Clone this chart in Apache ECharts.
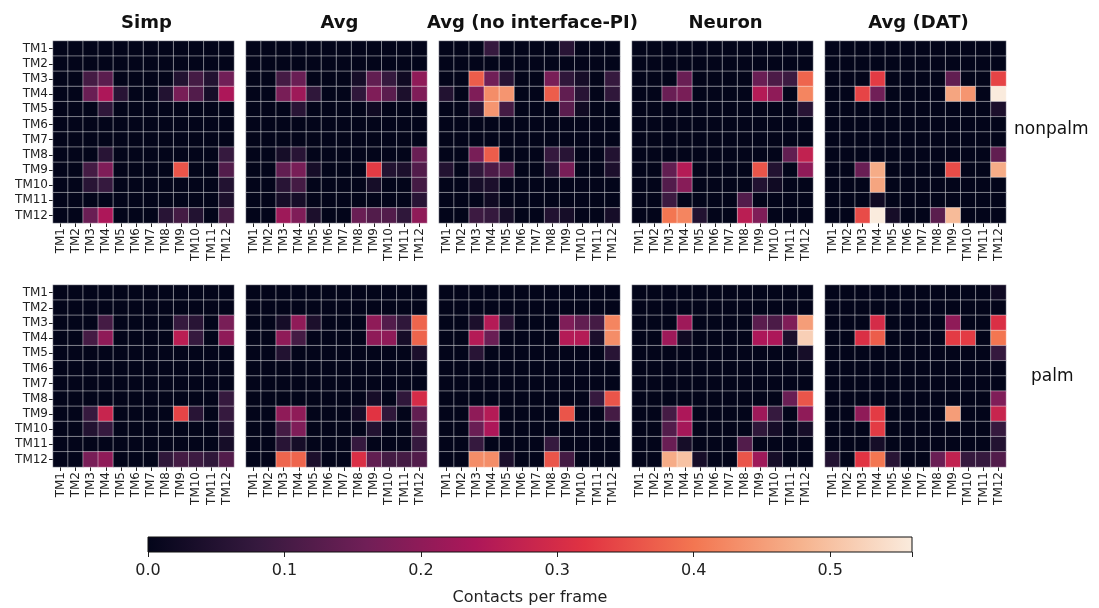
<!DOCTYPE html>
<html>
<head>
<meta charset="utf-8">
<script src="https://cdn.jsdelivr.net/npm/echarts@6/dist/echarts.min.js"></script>
<style>html,body{margin:0;padding:0;background:#fff;}#chart{width:1099px;height:608px;}</style>
</head>
<body>
<div id="chart"></div>
<script>
const tmLabels = ['TM1','TM2','TM3','TM4','TM5','TM6','TM7','TM8','TM9','TM10','TM11','TM12'];
const methods = ['Simp', 'Avg', 'Avg (no interface-PI)', 'Neuron', 'Avg (DAT)'];
const conditions = ['nonpalm', 'palm'];
const cbarTicks = [0.0, 0.1, 0.2, 0.3, 0.4, 0.5];
const vmax = 0.56;
const rocket = ['#03051a','#35193e','#701f57','#ad1759','#e13342','#f37651','#f6b48f','#faebdd'];

// rows TM1..TM12 (top to bottom), columns TM1..TM12
const simpNonpalm = [
 [0,0,0,0,0,0,0,0,0,0,0,0],
 [0,0,0,0,0,0,0,0,0,0,0,0],
 [0,0,0.10,0.13,0,0,0,0,0.05,0.10,0.05,0.16],
 [0,0,0.15,0.24,0.06,0,0,0.05,0.17,0.12,0.03,0.24],
 [0,0,0,0.07,0,0,0,0,0,0,0,0],
 [0,0,0,0,0,0,0,0,0,0,0,0],
 [0,0,0,0,0,0,0,0,0,0,0,0],
 [0,0,0,0.06,0,0,0,0,0,0,0,0.08],
 [0,0,0.10,0.18,0,0,0,0,0.36,0,0,0.12],
 [0,0,0.06,0.08,0,0,0,0,0,0,0,0.05],
 [0,0,0,0,0,0,0,0,0,0,0,0.04],
 [0,0,0.15,0.24,0,0,0,0.06,0.10,0.05,0,0.10]
];
const avgNonpalm = [
 [0,0,0,0,0,0,0,0,0,0,0,0],
 [0,0,0,0,0,0,0,0,0,0,0,0],
 [0,0,0.10,0.15,0,0,0,0.03,0.14,0.08,0.02,0.20],
 [0,0,0.17,0.22,0.07,0,0,0.07,0.18,0.13,0.04,0.18],
 [0,0,0,0.06,0,0,0,0,0.02,0,0,0],
 [0,0,0,0,0,0,0,0,0,0,0,0],
 [0,0,0,0,0,0,0,0,0,0,0,0],
 [0,0,0.03,0.06,0,0,0,0,0,0,0,0.15],
 [0,0,0.14,0.17,0.03,0,0,0,0.33,0.05,0.04,0.12],
 [0,0,0.06,0.10,0,0,0,0,0.03,0,0,0.10],
 [0,0,0.03,0.03,0,0,0,0,0,0,0,0.06],
 [0,0,0.22,0.18,0.04,0,0,0.15,0.12,0.12,0.07,0.20]
];
const noPiNonpalm = [
 [0,0,0,0.08,0,0,0,0,0.06,0,0,0],
 [0,0,0,0,0,0,0,0,0,0,0,0],
 [0,0,0.37,0.16,0.06,0,0,0.17,0.07,0.03,0,0.08],
 [0.05,0,0.18,0.43,0.44,0,0,0.37,0.14,0.06,0,0.07],
 [0,0,0.06,0.44,0.10,0,0,0,0.13,0.02,0,0],
 [0,0,0,0,0,0,0,0,0,0,0,0],
 [0,0,0,0,0,0,0,0,0,0,0,0],
 [0,0,0.17,0.37,0,0,0,0.08,0.06,0,0,0.05],
 [0.05,0,0.07,0.11,0.12,0,0,0.05,0.17,0,0,0.04],
 [0,0,0.03,0.04,0,0,0,0,0,0,0,0],
 [0,0,0,0.02,0,0,0,0,0,0,0,0],
 [0,0,0.09,0.08,0.03,0,0,0.05,0.03,0,0,0.03]
];
const neuronNonpalm = [
 [0,0,0,0,0,0,0,0,0,0,0,0],
 [0,0,0,0,0,0,0,0,0,0,0,0],
 [0,0,0,0.15,0,0,0,0,0.15,0.11,0.09,0.38],
 [0,0,0.15,0.17,0,0,0,0,0.25,0.20,0,0.42],
 [0,0,0,0,0,0,0,0,0,0,0,0.06],
 [0,0,0,0,0,0,0,0,0,0,0,0],
 [0,0,0,0,0,0,0,0,0,0,0,0],
 [0,0,0,0,0,0,0,0,0,0,0.14,0.27],
 [0,0,0.14,0.25,0,0,0,0,0.36,0.05,0,0.20],
 [0,0,0.12,0.19,0,0,0,0,0.05,0.02,0,0],
 [0,0,0.09,0,0,0,0,0.12,0,0,0,0],
 [0,0,0.40,0.42,0.05,0,0,0.26,0.18,0,0,0]
];
const datNonpalm = [
 [0,0,0,0,0,0,0,0,0,0,0,0],
 [0,0,0,0,0,0,0,0,0,0,0,0],
 [0,0,0,0.33,0,0,0,0,0.14,0,0,0.34],
 [0,0,0.34,0.16,0,0,0,0,0.46,0.44,0,0.56],
 [0,0,0,0,0,0,0,0,0,0,0,0.04],
 [0,0,0,0,0,0,0,0,0,0,0,0],
 [0,0,0,0,0,0,0,0,0,0,0,0],
 [0,0,0,0,0,0,0,0,0,0,0,0.14],
 [0,0,0.15,0.47,0,0,0,0,0.35,0,0,0.47],
 [0,0,0,0.46,0,0,0,0,0,0,0,0],
 [0,0,0,0.02,0,0,0,0,0,0,0,0],
 [0,0,0.35,0.56,0.03,0,0,0.13,0.49,0,0,0]
];
const simpPalm = [
 [0,0,0,0,0,0,0,0,0,0,0,0],
 [0,0,0,0,0,0,0,0,0,0,0,0],
 [0,0,0,0.10,0,0,0,0,0.08,0.06,0,0.17],
 [0,0,0.10,0.20,0,0,0,0,0.26,0.08,0,0.20],
 [0,0,0,0,0,0,0,0,0,0,0,0],
 [0,0,0,0,0,0,0,0,0,0,0,0],
 [0,0,0,0,0,0,0,0,0,0,0,0],
 [0,0,0,0,0,0,0,0,0,0,0,0.08],
 [0,0,0.08,0.28,0,0,0,0,0.34,0.06,0,0.08],
 [0,0,0.05,0.08,0,0,0,0,0,0,0,0.05],
 [0,0,0,0,0,0,0,0,0,0,0,0.03],
 [0,0,0.17,0.20,0,0,0,0.07,0.10,0.09,0.07,0.12]
];
const avgPalm = [
 [0,0,0,0,0,0,0,0,0,0,0,0],
 [0,0,0,0,0,0,0,0,0,0,0,0],
 [0,0,0.03,0.20,0.04,0,0,0,0.20,0.12,0.07,0.38],
 [0,0,0.20,0.10,0,0,0,0,0.20,0.20,0.03,0.38],
 [0,0,0.05,0,0,0,0,0,0,0,0,0.04],
 [0,0,0,0,0,0,0,0,0,0,0,0],
 [0,0,0,0,0,0,0,0,0,0,0,0],
 [0,0,0,0,0,0,0,0,0.03,0,0.07,0.30],
 [0,0,0.20,0.20,0,0,0,0.03,0.32,0.07,0,0.14],
 [0,0,0.10,0.18,0,0,0,0,0.05,0,0,0.10],
 [0,0,0.06,0.03,0,0,0,0.08,0,0,0,0.08],
 [0,0,0.38,0.38,0.04,0,0,0.31,0.14,0.10,0.10,0.12]
];
const noPiPalm = [
 [0,0,0,0,0,0,0,0,0,0,0,0],
 [0,0,0,0,0,0,0,0,0,0,0,0],
 [0,0,0.04,0.25,0.06,0,0,0,0.18,0.14,0.10,0.42],
 [0,0,0.25,0.15,0,0,0,0,0.25,0.25,0.04,0.43],
 [0,0,0.06,0,0,0,0,0,0,0,0,0.06],
 [0,0,0,0,0,0,0,0,0,0,0,0],
 [0,0,0,0,0,0,0,0,0,0,0,0],
 [0,0,0,0,0,0,0,0,0,0,0.08,0.36],
 [0,0,0.20,0.25,0,0,0,0,0.36,0,0,0.10],
 [0,0,0.15,0.24,0,0,0,0,0,0,0,0],
 [0,0,0.08,0,0,0,0,0.08,0,0,0,0],
 [0,0,0.43,0.43,0.04,0,0,0.36,0.10,0,0,0]
];
const neuronPalm = [
 [0,0,0,0,0,0,0,0,0,0,0,0],
 [0,0,0,0,0,0,0,0,0,0,0,0],
 [0,0,0,0.22,0,0,0,0,0.13,0.11,0.18,0.45],
 [0,0,0.22,0.02,0,0,0,0,0.24,0.24,0.04,0.52],
 [0,0,0,0,0,0,0,0,0,0,0,0.03],
 [0,0,0,0,0,0,0,0,0,0,0,0],
 [0,0,0,0,0,0,0,0,0,0,0,0],
 [0,0,0,0,0,0,0,0,0,0,0.15,0.36],
 [0,0,0.10,0.24,0,0,0,0,0.22,0.08,0,0.20],
 [0,0,0.12,0.23,0,0,0,0,0.07,0.03,0,0.03],
 [0,0,0.15,0.03,0,0,0,0.12,0,0,0,0],
 [0,0,0.47,0.50,0.03,0,0,0.36,0.22,0.03,0,0]
];
const datPalm = [
 [0,0,0,0,0,0,0,0,0,0,0,0.02],
 [0,0,0,0,0,0,0,0,0,0,0,0],
 [0,0,0,0.30,0,0,0,0,0.20,0,0,0.31],
 [0,0,0.31,0.37,0,0,0,0,0.33,0.33,0,0.40],
 [0,0,0,0,0,0,0,0,0,0,0,0.08],
 [0,0,0,0,0,0,0,0,0,0,0,0],
 [0,0,0,0,0,0,0,0,0,0,0,0],
 [0,0,0,0,0,0,0,0,0,0,0,0.18],
 [0,0,0.20,0.33,0,0,0,0,0.45,0,0,0.28],
 [0,0,0,0.33,0,0,0,0,0,0,0,0.08],
 [0,0,0,0.03,0,0,0,0,0,0,0,0.05],
 [0.05,0,0.32,0.40,0.06,0,0,0.15,0.27,0.08,0.08,0.12]
];

const panels = [
  [simpNonpalm, avgNonpalm, noPiNonpalm, neuronNonpalm, datNonpalm],
  [simpPalm, avgPalm, noPiPalm, neuronPalm, datPalm]
];

const FONT = 'DejaVu Sans';
const panelLeft0 = 53, panelStep = 193, panelW = 181, panelH = 182;
const rowTops = [41, 285];

const grids = [], xAxes = [], yAxes = [], series = [], titles = [];
let gi = 0;
for (let r = 0; r < 2; r++) {
  for (let c = 0; c < 5; c++) {
    const left = panelLeft0 + c * panelStep;
    grids.push({left: left, top: rowTops[r], width: panelW, height: panelH, containLabel: false});
    xAxes.push({
      type: 'category', gridIndex: gi, data: tmLabels, position: 'bottom',
      axisLine: {show: false},
      axisTick: {show: true, alignWithLabel: true, length: 4, lineStyle: {color: '#222'}},
      axisLabel: {rotate: 90, interval: 0, fontSize: 12, color: '#222', fontFamily: FONT, margin: 5},
      splitLine: {show: false}
    });
    yAxes.push({
      type: 'category', gridIndex: gi, data: tmLabels, inverse: true,
      axisLine: {show: false},
      axisTick: {show: c === 0, alignWithLabel: true, length: 4, lineStyle: {color: '#222'}},
      axisLabel: {show: c === 0, interval: 0, fontSize: 12, color: '#222', fontFamily: FONT, margin: 5},
      splitLine: {show: false}
    });
    const m = panels[r][c];
    const data = [];
    for (let i = 0; i < 12; i++) for (let j = 0; j < 12; j++) data.push([j, i, m[i][j]]);
    series.push({
      type: 'heatmap', xAxisIndex: gi, yAxisIndex: gi, data: data,
      itemStyle: {borderColor: 'rgba(255,255,255,0.72)', borderWidth: 0.6},
      emphasis: {disabled: true}, silent: true, progressive: 0
    });
    gi++;
  }
}
for (let c = 0; c < 5; c++) {
  titles.push({
    text: methods[c], left: panelLeft0 + c * panelStep + panelW / 2 - 2, top: 9, textAlign: 'center',
    textStyle: {fontFamily: FONT, fontWeight: 'bold', fontSize: 18, color: '#111'}
  });
}

// colorbar grid
const cbGrid = grids.length;
grids.push({left: 148, top: 537, width: 764, height: 15});
xAxes.push({
  type: 'value', gridIndex: cbGrid, min: 0, max: vmax, interval: 0.1,
  axisLine: {show: false},
  axisTick: {show: true, length: 5, lineStyle: {color: '#222'}},
  axisLabel: {fontSize: 16, color: '#222', fontFamily: FONT, margin: 11,
    formatter: v => (cbarTicks.some(t => Math.abs(t - v) < 1e-6) ? v.toFixed(1) : '')},
  splitLine: {show: false},
  name: 'Contacts per frame', nameLocation: 'middle', nameGap: 38,
  nameTextStyle: {fontSize: 16, color: '#222', fontFamily: FONT}
});
yAxes.push({type: 'value', gridIndex: cbGrid, min: 0, max: 1, show: false});
series.push({
  type: 'custom', xAxisIndex: cbGrid, yAxisIndex: cbGrid, silent: true,
  data: [[0, vmax]],
  renderItem: function (params, api) {
    const p0 = api.coord([api.value(0), 0]);
    const p1 = api.coord([api.value(1), 1]);
    const stops = rocket.map((col, k) => ({offset: k / (rocket.length - 1), color: col}));
    return {
      type: 'rect',
      shape: {x: p0[0], y: p1[1], width: p1[0] - p0[0], height: p0[1] - p1[1]},
      style: {fill: new echarts.graphic.LinearGradient(0, 0, 1, 0, stops), stroke: '#111', lineWidth: 1}
    };
  }
});

const chart = echarts.init(document.getElementById('chart'), null, {renderer: 'canvas'});
chart.setOption({
  backgroundColor: '#fff',
  animation: false,
  title: titles,
  grid: grids,
  xAxis: xAxes,
  yAxis: yAxes,
  visualMap: {
    type: 'continuous', show: false, min: 0, max: vmax,
    seriesIndex: [0,1,2,3,4,5,6,7,8,9],
    inRange: {color: rocket}
  },
  graphic: [
    {type: 'text', left: 1014, top: 121, style: {text: conditions[0], font: '17px "DejaVu Sans"', fill: '#111'}},
    {type: 'text', left: 1031, top: 368, style: {text: conditions[1], font: '17px "DejaVu Sans"', fill: '#111'}}
  ],
  series: series
});
</script>
</body>
</html>
